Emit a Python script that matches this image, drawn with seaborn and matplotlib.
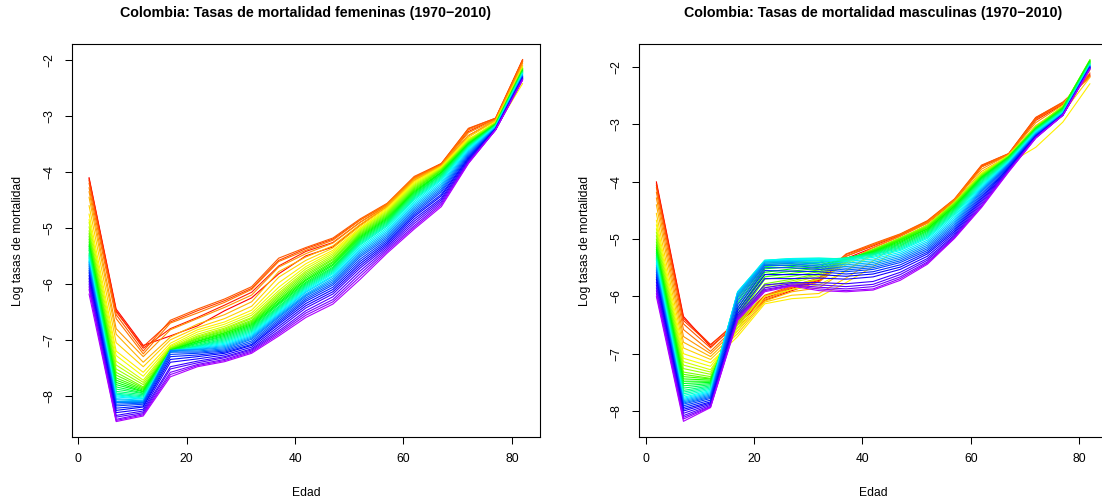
import matplotlib
matplotlib.use("Agg")
import matplotlib.pyplot as plt
import numpy as np
import pandas as pd
import seaborn as sns
from matplotlib.colors import hsv_to_rgb

years = list(range(1970, 2011))
ages = [2, 7, 12, 17, 22, 27, 32, 37, 42, 47, 52, 57, 62, 67, 72, 77, 82]

# ---------------- Female log mortality rates (one list per age group, 1970..2010)
F02 = [-4.10,-4.12,-4.15,-4.20,-4.28,-4.35,-4.45,-4.60,-4.75,-4.85,
       -4.90,-4.98,-5.05,-5.10,-5.15,-5.20,-5.25,-5.30,-5.33,-5.37,
       -5.40,-5.45,-5.48,-5.50,-5.53,-5.55,-5.58,-5.60,-5.62,-5.65,
       -5.68,-5.72,-5.76,-5.80,-5.85,-5.90,-5.95,-6.00,-6.05,-6.10,-6.18]
F07 = [-6.45,-6.48,-6.50,-6.55,-6.62,-6.80,-6.90,-7.05,-7.20,-7.28,
       -7.38,-7.45,-7.52,-7.58,-7.63,-7.68,-7.72,-7.76,-7.80,-7.84,
       -7.88,-7.92,-7.95,-7.97,-7.98,-8.00,-8.02,-8.05,-8.07,-8.10,
       -8.12,-8.15,-8.18,-8.22,-8.26,-8.30,-8.35,-8.38,-8.42,-8.44,-8.46]
F12 = [-7.10,-7.15,-7.12,-7.20,-7.25,-7.30,-7.40,-7.48,-7.58,-7.65,
       -7.72,-7.76,-7.80,-7.84,-7.86,-7.88,-7.90,-7.92,-7.93,-7.95,
       -7.96,-7.98,-8.00,-8.02,-8.04,-8.05,-8.06,-8.08,-8.09,-8.10,
       -8.12,-8.13,-8.15,-8.18,-8.20,-8.24,-8.27,-8.30,-8.32,-8.34,-8.36]
F17 = [-6.93,-6.80,-6.68,-6.65,-6.70,-6.82,-6.95,-7.00,-7.06,-7.10,
       -7.12,-7.14,-7.15,-7.16,-7.17,-7.18,-7.18,-7.19,-7.20,-7.20,
       -7.20,-7.21,-7.21,-7.22,-7.22,-7.20,-7.20,-7.19,-7.19,-7.19,
       -7.20,-7.22,-7.26,-7.30,-7.35,-7.40,-7.48,-7.52,-7.58,-7.62,-7.66]
F22 = [-6.75,-6.60,-6.48,-6.45,-6.52,-6.62,-6.72,-6.78,-6.82,-6.86,
       -6.90,-6.93,-6.95,-6.97,-6.98,-7.00,-7.02,-7.03,-7.05,-7.06,
       -7.08,-7.10,-7.11,-7.12,-7.13,-7.14,-7.15,-7.16,-7.17,-7.18,
       -7.20,-7.22,-7.24,-7.27,-7.30,-7.34,-7.38,-7.41,-7.44,-7.46,-7.48]
F27 = [-6.48,-6.38,-6.30,-6.27,-6.33,-6.42,-6.55,-6.62,-6.68,-6.72,
       -6.76,-6.79,-6.81,-6.83,-6.85,-6.87,-6.88,-6.90,-6.92,-6.94,
       -6.96,-6.98,-7.00,-7.02,-7.04,-7.06,-7.08,-7.10,-7.12,-7.14,
       -7.16,-7.18,-7.20,-7.22,-7.24,-7.27,-7.30,-7.32,-7.35,-7.37,-7.39]
F32 = [-6.25,-6.15,-6.08,-6.05,-6.10,-6.20,-6.32,-6.40,-6.47,-6.52,
       -6.56,-6.60,-6.62,-6.65,-6.67,-6.69,-6.71,-6.73,-6.75,-6.77,
       -6.79,-6.81,-6.83,-6.85,-6.87,-6.89,-6.91,-6.93,-6.95,-6.97,
       -6.99,-7.02,-7.05,-7.08,-7.10,-7.13,-7.16,-7.18,-7.20,-7.22,-7.24]
F37 = [-5.82,-5.68,-5.58,-5.54,-5.60,-5.70,-5.78,-5.88,-5.98,-6.06,
       -6.12,-6.16,-6.19,-6.22,-6.25,-6.28,-6.30,-6.33,-6.35,-6.37,
       -6.40,-6.42,-6.44,-6.46,-6.48,-6.50,-6.52,-6.54,-6.56,-6.58,
       -6.60,-6.63,-6.66,-6.69,-6.72,-6.76,-6.80,-6.84,-6.87,-6.90,-6.93]
F42 = [-5.50,-5.42,-5.37,-5.35,-5.40,-5.46,-5.52,-5.58,-5.64,-5.69,
       -5.73,-5.77,-5.80,-5.83,-5.86,-5.89,-5.92,-5.94,-5.97,-5.99,
       -6.01,-6.03,-6.05,-6.07,-6.09,-6.11,-6.13,-6.15,-6.18,-6.20,
       -6.22,-6.25,-6.28,-6.31,-6.35,-6.39,-6.43,-6.48,-6.52,-6.56,-6.60]
F47 = [-5.34,-5.26,-5.20,-5.18,-5.22,-5.27,-5.32,-5.36,-5.40,-5.43,
       -5.46,-5.49,-5.52,-5.55,-5.57,-5.60,-5.62,-5.65,-5.67,-5.70,
       -5.72,-5.74,-5.76,-5.78,-5.80,-5.82,-5.85,-5.87,-5.90,-5.93,
       -5.96,-5.99,-6.02,-6.06,-6.10,-6.14,-6.18,-6.23,-6.28,-6.32,-6.36]
F52 = [-4.95,-4.90,-4.86,-4.84,-4.86,-4.90,-4.94,-4.97,-5.00,-5.02,
       -5.03,-5.05,-5.07,-5.09,-5.11,-5.13,-5.15,-5.17,-5.19,-5.21,
       -5.23,-5.25,-5.27,-5.29,-5.31,-5.34,-5.37,-5.40,-5.43,-5.46,
       -5.49,-5.52,-5.56,-5.60,-5.64,-5.68,-5.72,-5.77,-5.82,-5.87,-5.92]
F57 = [-4.62,-4.60,-4.58,-4.56,-4.57,-4.59,-4.61,-4.63,-4.65,-4.67,
       -4.69,-4.71,-4.73,-4.75,-4.77,-4.79,-4.81,-4.83,-4.85,-4.87,
       -4.89,-4.91,-4.93,-4.95,-4.97,-5.00,-5.03,-5.06,-5.09,-5.12,
       -5.15,-5.18,-5.21,-5.24,-5.27,-5.30,-5.33,-5.36,-5.39,-5.42,-5.45]
F62 = [-4.15,-4.12,-4.10,-4.08,-4.10,-4.12,-4.14,-4.16,-4.18,-4.20,
       -4.22,-4.24,-4.26,-4.28,-4.30,-4.32,-4.34,-4.36,-4.38,-4.40,
       -4.42,-4.44,-4.46,-4.48,-4.50,-4.53,-4.56,-4.59,-4.62,-4.65,
       -4.68,-4.71,-4.74,-4.77,-4.80,-4.84,-4.88,-4.92,-4.96,-4.99,-5.02]
F67 = [-3.88,-3.86,-3.85,-3.85,-3.87,-3.88,-3.89,-3.90,-3.91,-3.92,
       -3.93,-3.94,-3.95,-3.96,-3.97,-3.98,-4.00,-4.01,-4.02,-4.04,
       -4.05,-4.07,-4.09,-4.11,-4.13,-4.15,-4.18,-4.21,-4.24,-4.27,
       -4.30,-4.33,-4.36,-4.40,-4.43,-4.47,-4.50,-4.53,-4.56,-4.59,-4.62]
F72 = [-3.35,-3.28,-3.23,-3.22,-3.25,-3.30,-3.35,-3.38,-3.40,-3.42,
       -3.43,-3.44,-3.45,-3.46,-3.47,-3.48,-3.49,-3.50,-3.51,-3.52,
       -3.53,-3.54,-3.55,-3.56,-3.57,-3.58,-3.60,-3.62,-3.64,-3.66,
       -3.68,-3.70,-3.72,-3.74,-3.76,-3.78,-3.80,-3.82,-3.83,-3.84,-3.85]
F77 = [-3.08,-3.05,-3.04,-3.04,-3.06,-3.07,-3.08,-3.09,-3.22,-3.11,
       -3.12,-3.12,-3.13,-3.13,-3.14,-3.14,-3.15,-3.15,-3.16,-3.16,
       -3.17,-3.17,-3.18,-3.18,-3.19,-3.19,-3.20,-3.20,-3.21,-3.21,
       -3.22,-3.22,-3.23,-3.23,-3.24,-3.24,-3.24,-3.25,-3.25,-3.25,-3.25]
F82 = [-2.00,-2.02,-1.99,-2.00,-2.03,-2.06,-2.10,-2.15,-2.42,-2.12,
       -2.14,-2.15,-2.16,-2.17,-2.16,-2.18,-2.19,-2.18,-2.20,-2.21,
       -2.20,-2.22,-2.22,-2.23,-2.24,-2.24,-2.25,-2.26,-2.27,-2.28,
       -2.29,-2.30,-2.30,-2.31,-2.32,-2.33,-2.33,-2.34,-2.35,-2.35,-2.36]

# ---------------- Male log mortality rates
M02 = [-4.00,-4.03,-4.06,-4.10,-4.18,-4.28,-4.40,-4.55,-4.67,-4.75,
       -4.82,-4.88,-4.94,-5.00,-5.05,-5.10,-5.14,-5.18,-5.22,-5.25,
       -5.28,-5.31,-5.33,-5.35,-5.37,-5.40,-5.43,-5.46,-5.49,-5.52,
       -5.55,-5.58,-5.62,-5.66,-5.70,-5.75,-5.80,-5.85,-5.90,-5.95,-6.00]
M07 = [-6.35,-6.38,-6.42,-6.48,-6.58,-6.70,-6.80,-6.90,-7.00,-7.08,
       -7.14,-7.20,-7.26,-7.32,-7.36,-7.40,-7.44,-7.48,-7.52,-7.56,
       -7.60,-7.64,-7.67,-7.70,-7.73,-7.76,-7.78,-7.80,-7.82,-7.84,
       -7.86,-7.88,-7.91,-7.94,-7.97,-8.00,-8.04,-8.08,-8.11,-8.14,-8.18]
M12 = [-6.88,-6.84,-6.85,-6.90,-6.96,-7.00,-7.05,-7.10,-7.16,-7.22,
       -7.28,-7.32,-7.36,-7.40,-7.43,-7.44,-7.46,-7.48,-7.50,-7.52,
       -7.54,-7.56,-7.58,-7.60,-7.62,-7.64,-7.66,-7.68,-7.70,-7.72,
       -7.74,-7.76,-7.78,-7.81,-7.84,-7.86,-7.88,-7.90,-7.92,-7.93,-7.94]
M17 = [-6.48,-6.45,-6.42,-6.45,-6.50,-6.55,-6.60,-6.65,-6.70,-6.60,
       -6.55,-6.50,-6.45,-6.40,-6.38,-6.35,-6.30,-6.25,-6.20,-6.12,
       -6.05,-6.00,-5.97,-5.94,-5.93,-5.92,-5.92,-5.93,-5.95,-5.98,
       -6.02,-6.08,-6.15,-6.20,-6.25,-6.30,-6.33,-6.36,-6.38,-6.40,-6.42]
M22 = [-6.07,-6.03,-6.00,-5.98,-6.00,-6.05,-6.08,-6.10,-6.13,-6.00,
       -5.90,-5.85,-5.82,-5.78,-5.70,-5.66,-5.62,-5.58,-5.52,-5.48,
       -5.45,-5.42,-5.40,-5.38,-5.37,-5.37,-5.38,-5.39,-5.40,-5.42,
       -5.44,-5.46,-5.50,-5.55,-5.62,-5.69,-5.80,-5.85,-5.88,-5.90,-5.92]
M27 = [-5.90,-5.86,-5.84,-5.82,-5.84,-5.88,-5.92,-5.98,-6.04,-5.88,
       -5.80,-5.76,-5.73,-5.70,-5.65,-5.60,-5.56,-5.52,-5.48,-5.45,
       -5.42,-5.39,-5.37,-5.35,-5.34,-5.34,-5.35,-5.37,-5.39,-5.41,
       -5.43,-5.46,-5.50,-5.56,-5.62,-5.69,-5.76,-5.78,-5.80,-5.81,-5.82]
M32 = [-5.74,-5.72,-5.70,-5.68,-5.70,-5.75,-5.85,-5.95,-6.01,-5.80,
       -5.70,-5.65,-5.62,-5.60,-5.57,-5.54,-5.51,-5.48,-5.45,-5.42,
       -5.40,-5.38,-5.36,-5.34,-5.33,-5.34,-5.36,-5.38,-5.41,-5.44,
       -5.47,-5.50,-5.53,-5.57,-5.62,-5.68,-5.76,-5.80,-5.84,-5.87,-5.90]
M37 = [-5.34,-5.30,-5.27,-5.26,-5.30,-5.40,-5.55,-5.68,-5.76,-5.55,
       -5.45,-5.42,-5.40,-5.38,-5.37,-5.36,-5.35,-5.34,-5.34,-5.33,
       -5.33,-5.33,-5.33,-5.34,-5.35,-5.37,-5.39,-5.42,-5.45,-5.48,
       -5.51,-5.54,-5.57,-5.61,-5.65,-5.70,-5.78,-5.83,-5.87,-5.90,-5.92]
M42 = [-5.15,-5.12,-5.10,-5.08,-5.10,-5.15,-5.25,-5.38,-5.48,-5.28,
       -5.22,-5.19,-5.18,-5.18,-5.19,-5.20,-5.21,-5.22,-5.23,-5.24,
       -5.25,-5.26,-5.27,-5.28,-5.30,-5.32,-5.35,-5.38,-5.41,-5.44,
       -5.47,-5.50,-5.53,-5.57,-5.61,-5.66,-5.74,-5.79,-5.83,-5.87,-5.89]
M47 = [-4.95,-4.93,-4.92,-4.91,-4.92,-4.95,-5.00,-5.06,-5.12,-5.02,
       -4.99,-4.98,-4.98,-4.99,-5.00,-5.01,-5.02,-5.04,-5.06,-5.08,
       -5.10,-5.12,-5.14,-5.16,-5.18,-5.20,-5.23,-5.26,-5.29,-5.32,
       -5.35,-5.38,-5.41,-5.45,-5.49,-5.53,-5.58,-5.62,-5.66,-5.69,-5.72]
M52 = [-4.72,-4.70,-4.69,-4.68,-4.70,-4.72,-4.75,-4.80,-4.85,-4.78,
       -4.76,-4.76,-4.77,-4.78,-4.79,-4.80,-4.82,-4.83,-4.85,-4.87,
       -4.89,-4.91,-4.93,-4.95,-4.97,-4.99,-5.02,-5.05,-5.08,-5.11,
       -5.14,-5.17,-5.20,-5.23,-5.26,-5.30,-5.34,-5.37,-5.40,-5.42,-5.44]
M57 = [-4.35,-4.33,-4.31,-4.30,-4.31,-4.33,-4.36,-4.40,-4.45,-4.38,
       -4.36,-4.36,-4.37,-4.38,-4.39,-4.40,-4.42,-4.43,-4.45,-4.47,
       -4.49,-4.51,-4.53,-4.55,-4.57,-4.60,-4.63,-4.66,-4.69,-4.72,
       -4.75,-4.78,-4.81,-4.84,-4.87,-4.90,-4.93,-4.95,-4.97,-4.98,-4.99]
M62 = [-3.74,-3.73,-3.72,-3.71,-3.74,-3.78,-3.82,-3.86,-3.95,-3.85,
       -3.86,-3.87,-3.88,-3.89,-3.90,-3.91,-3.92,-3.93,-3.94,-3.95,
       -3.97,-3.99,-4.01,-4.03,-4.05,-4.07,-4.09,-4.11,-4.13,-4.15,
       -4.17,-4.20,-4.23,-4.26,-4.29,-4.32,-4.35,-4.38,-4.41,-4.43,-4.45]
M67 = [-3.53,-3.52,-3.51,-3.51,-3.52,-3.53,-3.55,-3.58,-3.68,-3.54,
       -3.54,-3.55,-3.55,-3.56,-3.56,-3.57,-3.57,-3.58,-3.58,-3.59,
       -3.60,-3.61,-3.62,-3.63,-3.64,-3.65,-3.66,-3.67,-3.68,-3.69,
       -3.70,-3.71,-3.73,-3.75,-3.76,-3.78,-3.79,-3.80,-3.81,-3.82,-3.83]
M72 = [-2.93,-2.90,-2.88,-2.88,-2.92,-2.97,-3.02,-3.12,-3.40,-3.05,
       -3.04,-3.04,-3.05,-3.05,-3.06,-3.06,-3.07,-3.08,-3.08,-3.09,
       -3.10,-3.10,-3.11,-3.12,-3.12,-3.13,-3.14,-3.15,-3.16,-3.17,
       -3.18,-3.19,-3.19,-3.20,-3.21,-3.22,-3.22,-3.23,-3.23,-3.24,-3.24]
M77 = [-2.65,-2.63,-2.62,-2.61,-2.63,-2.66,-2.70,-2.80,-2.96,-2.68,
       -2.68,-2.69,-2.69,-2.70,-2.70,-2.71,-2.72,-2.72,-2.73,-2.74,
       -2.75,-2.76,-2.77,-2.78,-2.78,-2.79,-2.80,-2.80,-2.81,-2.81,
       -2.82,-2.82,-2.83,-2.83,-2.83,-2.84,-2.84,-2.84,-2.84,-2.84,-2.84]
M82 = [-2.12,-2.14,-2.16,-2.17,-2.15,-2.10,-2.05,-2.18,-2.29,-1.98,
       -1.95,-1.92,-1.90,-1.88,-1.87,-1.88,-1.89,-1.90,-1.91,-1.92,
       -1.93,-1.94,-1.94,-1.95,-1.96,-1.96,-1.97,-1.97,-1.98,-1.98,
       -1.99,-1.99,-2.00,-2.00,-2.01,-2.01,-2.02,-2.02,-2.03,-2.03,-2.04]

female_rows = [F02, F07, F12, F17, F22, F27, F32, F37, F42, F47, F52, F57, F62, F67, F72, F77, F82]
male_rows = [M02, M07, M12, M17, M22, M27, M32, M37, M42, M47, M52, M57, M62, M67, M72, M77, M82]

titles = ["Colombia: Tasas de mortalidad femeninas (1970\u22122010)",
          "Colombia: Tasas de mortalidad masculinas (1970\u22122010)"]
xlabel = "Edad"
ylabel = "Log tasas de mortalidad"


def to_long(rows):
    recs = []
    for age, vals in zip(ages, rows):
        for yr, v in zip(years, vals):
            recs.append((str(yr), age, v))
    return pd.DataFrame(recs, columns=["year", "age", "rate"])


n = len(years)
colors = [tuple(hsv_to_rgb((i / (n * 1.25), 1.0, 1.0))) for i in range(n)]
hue_order = [str(y) for y in years]
palette = dict(zip(hue_order, colors))

sns.set_theme(style="white")
plt.rcParams["font.family"] = ["Liberation Sans", "DejaVu Sans"]
plt.rcParams["axes.unicode_minus"] = True

W, H = 1102, 503
fig = plt.figure(figsize=(W / 100, H / 100), dpi=100)
fig.patch.set_facecolor("white")

ax_h = (436.7 - 44.3) / H
ax_b = (H - 436.7) / H
ax_w = 468.3 / W
ax1 = fig.add_axes([71.7 / W, ax_b, ax_w, ax_h])
ax2 = fig.add_axes([639.0 / W, ax_b, ax_w, ax_h])

panels = [
    (ax1, to_long(female_rows), (-8.73, -1.72), titles[0], 18),
    (ax2, to_long(male_rows), (-8.448, -1.603), titles[1], 585),
]

for ax, df, ylim, title, ylab_x in panels:
    sns.lineplot(data=df, x="age", y="rate", hue="year", hue_order=hue_order,
                 palette=palette, estimator=None, legend=False,
                 linewidth=0.8, ax=ax)
    ax.set_xlim(-1.2, 85.2)
    ax.set_ylim(*ylim)
    ax.set_xticks([0, 20, 40, 60, 80])
    ax.set_yticks([-8, -7, -6, -5, -4, -3, -2])
    ax.set_xticklabels(["0", "20", "40", "60", "80"])
    ax.set_yticklabels(["\u22128", "\u22127", "\u22126", "\u22125", "\u22124", "\u22123", "\u22122"],
                       rotation=90, va="center")
    ax.tick_params(axis="both", direction="out", length=5.2, width=0.75,
                   colors="black", labelsize=8.7, pad=6.5, bottom=True, left=True)
    for s in ax.spines.values():
        s.set_visible(True)
        s.set_color("black")
        s.set_linewidth(0.8)
    ax.set_xlabel("")
    ax.set_ylabel("")
    ax.grid(False)
    pos = ax.get_position()
    cx = pos.x0 + pos.width / 2
    fig.text(cx, 1 - 13 / H, title, ha="center", va="center",
             fontsize=10.3, fontweight="bold", color="black")
    fig.text(cx, 1 - 493 / H, xlabel, ha="center", va="center",
             fontsize=8.7, color="black")
    fig.text(ylab_x / W, 1 - 240.5 / H, ylabel, ha="center", va="center",
             rotation=90, fontsize=8.7, color="black")

fig.savefig("out.png", dpi=100, facecolor="white")
